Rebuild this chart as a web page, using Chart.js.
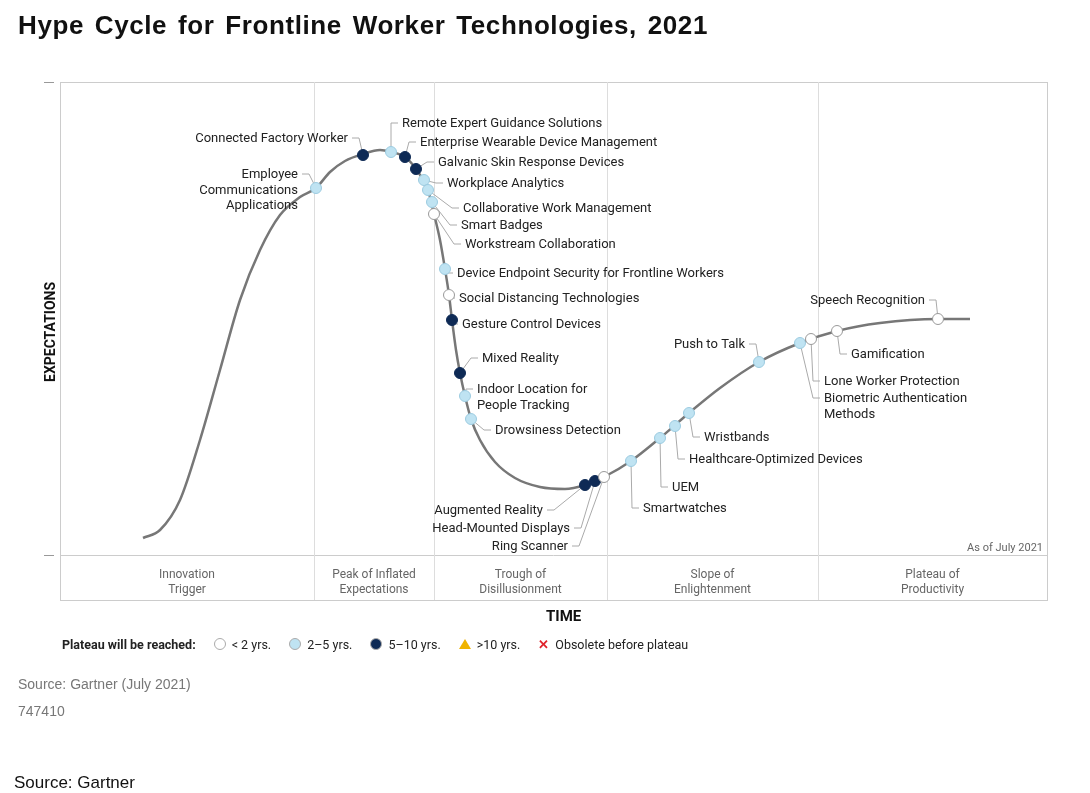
<!DOCTYPE html>
<html><head><meta charset="utf-8">
<script src="https://cdn.jsdelivr.net/npm/chart.js@4"></script>
<style>
body{margin:0;background:#fff;font-family:Roboto,Arial,sans-serif;}
#wrap{position:absolute;left:0;top:0;width:1090px;height:793px;}
.t{position:absolute;white-space:nowrap;}
</style></head><body>
<div id="wrap"><canvas id="c" width="1090" height="793"></canvas></div>
<div class="t" style="left:18px;top:10px;font:bold 26px Arial,'Liberation Sans',sans-serif;letter-spacing:0.6px;word-spacing:3px;color:#111;">Hype Cycle for Frontline Worker Technologies, 2021</div>
<div class="t" style="left:546px;top:607px;font:bold 15px Roboto,Arial;color:#111;">TIME</div>
<div class="t" style="left:42px;top:382px;font:bold 14px Roboto,Arial;color:#111;transform:rotate(-90deg);transform-origin:0 0;">EXPECTATIONS</div>
<div class="t" id="leg" style="left:62px;top:637px;font:12.5px Roboto,Arial;color:#222;"></div>
<div class="t" style="left:18px;top:676px;font:14px Arial;color:#777;">Source: Gartner (July 2021)</div>
<div class="t" style="left:18px;top:703px;font:14px Arial;color:#777;">747410</div>
<div class="t" style="left:14px;top:773px;font:17px Arial;color:#111;">Source: Gartner</div>
<script>
// Curve points (x: pixel-like time units, y: expectation units above baseline)
const curveX=[143,160,180,200,220,240,260,280,300,316,330,345,363,380,391,405,416,428,434,440,445,449,452,456,460,465,471,480,495,515,540,565,585,604,631,660,689,720,759,800,837,880,938,970];
const curveYpx=[538,530,500,440,370,300,250,215,197,188,172,161,154,150,152,157,169,190,214,240,269,295,320,350,373,396,419,440,462,478,487,489,485,477,461,438,413,388,362,343,331,323,319,319];
const BASE=555;
const curveY=curveYpx.map(v=>BASE-v);

const techNames=["Employee\nCommunications\nApplications","Connected Factory Worker","Remote Expert Guidance Solutions","Enterprise Wearable Device Management","Galvanic Skin Response Devices","Workplace Analytics","Collaborative Work Management","Smart Badges","Workstream Collaboration","Device Endpoint Security for Frontline Workers","Social Distancing Technologies","Gesture Control Devices","Mixed Reality","Indoor Location for\nPeople Tracking","Drowsiness Detection","Augmented Reality","Head-Mounted Displays","Ring Scanner","Smartwatches","UEM","Healthcare-Optimized Devices","Wristbands","Push to Talk","Biometric Authentication\nMethods","Lone Worker Protection","Gamification","Speech Recognition"];
const techX=[316,363,391,405,416,424,428,432,434,445,449,452,460,465,471,585,595,604,631,660,675,689,759,800,811,837,938];
const techYpx=[188,155,152,157,169,180,190,202,214,269,295,320,373,396,419,485,481,477,461,438,426,413,362,343,339,331,319];
const techY=techYpx.map(v=>BASE-v);
// plateau category: 0 <2 yrs, 1 2-5 yrs, 2 5-10 yrs
const techCat=[1,2,1,2,2,1,1,1,0,1,0,2,2,1,1,2,2,0,1,1,1,1,1,1,0,0,0];
// label anchors
const labelX=[298,348,402,420,438,447,463,461,465,457,459,462,482,477,495,543,570,568,643,672,689,704,745,824,824,851,925];
const labelYpx=[173,137,122,141,161,182,207,224,243,272,297,323,357,388,429,509,527,545,507,486,458,436,343,397,380,353,299];
const labelAlign=["r","r","l","l","l","l","l","l","l","l","l","l","l","l","l","r","r","r","l","l","l","l","r","l","l","l","r"];

const phaseNames=["Innovation\nTrigger","Peak of Inflated\nExpectations","Trough of\nDisillusionment","Slope of\nEnlightenment","Plateau of\nProductivity"];
const phaseBounds=[60,314,434,607,818,1047];

const catColors=["#ffffff","#bfe3f2","#0e2a55"];
const catNames=["< 2 yrs.","2\u20135 yrs.","5\u201310 yrs."];

const legend=document.getElementById('leg');
legend.innerHTML='<b>Plateau will be reached:</b>'+catNames.map((n,i)=>`<span style="display:inline-block;width:10px;height:10px;border-radius:50%;border:1px solid #aaa;background:${catColors[i]};margin:0 6px 0 18px;vertical-align:-1px"></span>${n}`).join('')+
'<span style="display:inline-block;margin:0 6px 0 18px;width:0;height:0;border-left:6px solid transparent;border-right:6px solid transparent;border-bottom:10px solid #f0b400;vertical-align:0"></span>&gt;10 yrs.'+
'<span style="color:#e0232b;font-weight:bold;margin:0 6px 0 18px">\u2715</span>Obsolete before plateau';

const datasets=[{type:'line',data:curveX.map((x,i)=>({x,y:curveY[i]})),borderColor:'#777',borderWidth:2.5,pointRadius:0,cubicInterpolationMode:'monotone',order:2}];
for(let c=0;c<3;c++){
  const pts=[];techX.forEach((x,i)=>{if(techCat[i]===c)pts.push({x,y:techY[i]});});
  datasets.push({type:'scatter',data:pts,backgroundColor:catColors[c],borderColor:c===0?'#999':(c===1?'#9ccbe0':'#0e2a55'),borderWidth:1,pointRadius:5.5,order:1});
}

const deco={id:'deco',
 beforeDatasetsDraw(ch){
  const {ctx,chartArea:a}=ch, xs=ch.scales.x;
  ctx.save();
  ctx.strokeStyle='#ccc';ctx.lineWidth=1;
  ctx.strokeRect(a.left+0.5,a.top+0.5,a.right-a.left,600-a.top);
  ctx.beginPath();ctx.moveTo(a.left,a.bottom+0.5);ctx.lineTo(a.right,a.bottom+0.5);ctx.stroke();
  ctx.strokeStyle='#ddd';
  for(let i=1;i<phaseBounds.length-1;i++){const px=Math.round(xs.getPixelForValue(phaseBounds[i]))+0.5;ctx.beginPath();ctx.moveTo(px,a.top);ctx.lineTo(px,600);ctx.stroke();}
  ctx.strokeStyle='#999';
  ctx.beginPath();ctx.moveTo(44,a.top+0.5);ctx.lineTo(54,a.top+0.5);ctx.moveTo(44,a.bottom+0.5);ctx.lineTo(54,a.bottom+0.5);ctx.stroke();
  ctx.fillStyle='#666';ctx.font='12px Roboto, Arial';ctx.textAlign='center';ctx.textBaseline='middle';
  phaseNames.forEach((n,i)=>{const cx=(xs.getPixelForValue(phaseBounds[i])+xs.getPixelForValue(phaseBounds[i+1]))/2;n.split('\n').forEach((l,j)=>ctx.fillText(l,cx,575+j*15));});
  ctx.font='11px Roboto, Arial';ctx.textAlign='right';ctx.fillText('As of July 2021',a.right-4,548);
  const ys=ch.scales.y;
  ctx.strokeStyle='#aaa';ctx.lineWidth=1;
  techX.forEach((x,i)=>{
    const px=xs.getPixelForValue(x), py=ys.getPixelForValue(techY[i]);
    const ly=labelYpx[i]-BASE+a.bottom+1; const lx=labelX[i];
    const ex=labelAlign[i]==='l'?lx-4:lx+4, mx=labelAlign[i]==='l'?ex-7:ex+7;
    ctx.beginPath();ctx.moveTo(px,py);ctx.lineTo(mx,ly);ctx.lineTo(ex,ly);ctx.stroke();
  });
  ctx.restore();
 },
 afterDatasetsDraw(ch){
  const {ctx,chartArea:a}=ch;
  ctx.save();ctx.fillStyle='#222';ctx.font='13px Roboto, Arial';ctx.textBaseline='middle';
  techNames.forEach((n,i)=>{
    const r=labelAlign[i]==='r';ctx.textAlign=r?'right':'left';
    const lines=n.split('\n');const y0=labelYpx[i]-BASE+a.bottom+2;
    lines.forEach((l,j)=>ctx.fillText(l,labelX[i],y0+j*15.5));
  });
  ctx.restore();
 }};

new Chart(document.getElementById('c'),{data:{datasets},
 options:{responsive:false,animation:false,devicePixelRatio:1,
  layout:{padding:{left:60,right:43,top:82,bottom:238}},
  plugins:{legend:{display:false},tooltip:{enabled:false}},
  scales:{x:{type:'linear',min:60,max:1047,display:false},y:{min:0,max:BASE-82,display:false}}},
 plugins:[deco]});
</script></body></html>
